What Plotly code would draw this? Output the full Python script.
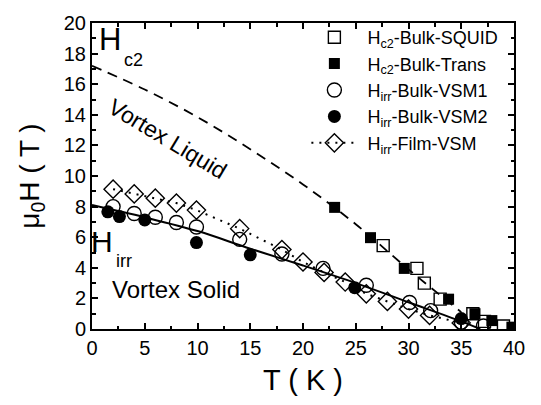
import plotly.graph_objects as go

# ---- data ----
squid_T = [27.6, 30.8, 31.5, 33.0, 36.1, 37.2, 39.0]
squid_H = [5.45, 3.96, 3.0, 1.95, 1.0, 0.5, 0.2]

trans_T = [23.0, 26.4, 29.6, 33.8, 36.3, 37.9, 39.8]
trans_H = [7.95, 5.97, 3.96, 1.95, 1.0, 0.55, 0.12]

vsm1_T = [2.0, 4.0, 6.0, 8.0, 9.9, 14.0, 18.0, 21.9, 26.0, 30.1, 32.1, 35.0, 37.1]
vsm1_H = [8.0, 7.55, 7.3, 6.96, 6.67, 5.86, 4.9, 3.96, 2.86, 1.73, 1.2, 0.45, 0.2]

vsm2_T = [1.5, 2.6, 5.0, 9.9, 15.0, 24.9, 35.0]
vsm2_H = [7.66, 7.35, 7.13, 5.65, 4.85, 2.7, 0.68]

film_T = [2.0, 4.0, 6.0, 8.0, 9.9, 14.0, 18.0, 20.0, 22.0, 24.0, 26.0, 28.0, 30.0, 32.0, 35.0]
film_H = [9.14, 8.83, 8.55, 8.23, 7.77, 6.56, 5.19, 4.38, 3.7, 3.07, 2.3, 1.8, 1.3, 0.89, 0.4]

hc2_fit_T = [0, 5, 10, 15, 20, 25, 30, 35]
hc2_fit_H = [17.2, 15.65, 13.85, 11.75, 9.45, 6.85, 3.9, 1.1]

irr_fit_T = [0, 5, 10, 15, 20, 25, 30, 35, 36.8]
irr_fit_H = [8.1, 7.3, 6.4, 5.25, 4.15, 3.0, 1.75, 0.5, 0.0]

legend_names = [
    "H<sub>c2</sub>-Bulk-SQUID",
    "H<sub>c2</sub>-Bulk-Trans",
    "H<sub>irr</sub>-Bulk-VSM1",
    "H<sub>irr</sub>-Bulk-VSM2",
    "H<sub>irr</sub>-Film-VSM",
]

FONT = "Liberation Sans, Arial, Helvetica, sans-serif"

fig = go.Figure()

# fit curves
fig.add_trace(go.Scatter(x=hc2_fit_T, y=hc2_fit_H, mode="lines", line_shape="spline",
                         line=dict(color="black", width=1.8, dash="10px,7px"), showlegend=False))
fig.add_trace(go.Scatter(x=irr_fit_T, y=irr_fit_H, mode="lines", line_shape="spline",
                         line=dict(color="black", width=2), showlegend=False))

# data
pad = "\u00a0"
fig.add_trace(go.Scatter(x=squid_T, y=squid_H, mode="markers", name=pad + legend_names[0],
                         marker=dict(symbol="square-open", size=12, color="black", line=dict(width=1.4))))
fig.add_trace(go.Scatter(x=trans_T, y=trans_H, mode="markers", name=pad + legend_names[1],
                         marker=dict(symbol="square", size=11, color="black")))
fig.add_trace(go.Scatter(x=vsm1_T, y=vsm1_H, mode="markers", name=pad + legend_names[2],
                         marker=dict(symbol="circle-open", size=14, color="black", line=dict(width=1.4))))
fig.add_trace(go.Scatter(x=vsm2_T, y=vsm2_H, mode="markers", name=pad + legend_names[3],
                         marker=dict(symbol="circle", size=13, color="black")))
fig.add_trace(go.Scatter(x=film_T, y=film_H, mode="lines+markers", name=pad + legend_names[4],
                         line=dict(color="black", width=2, dash="2px,6px"),
                         marker=dict(symbol="diamond-open", size=14, color="black", line=dict(width=1.4))))

def ann(x, y, text, size, angle=0):
    fig.add_annotation(x=x, y=y, xref="x", yref="y", text=text, showarrow=False,
                       font=dict(family=FONT, size=size, color="black"),
                       xanchor="center", yanchor="middle", textangle=angle)

ann(1.75, 18.9, "H", 31)
ann(3.9, 17.6, "c2", 18)
ann(7.2, 12.4, "Vortex Liquid", 23, 31)
ann(0.95, 5.7, "H", 30)
ann(3.05, 4.45, "irr", 18)
ann(8.0, 2.55, "Vortex Solid", 24)

axis_common = dict(showline=True, linewidth=2, linecolor="black", mirror="ticks",
                   ticks="inside", ticklen=6, tickwidth=1.5, tickcolor="black",
                   showgrid=False, zeroline=False,
                   tickfont=dict(family=FONT, size=20, color="black"))

fig.update_xaxes(range=[0, 40], dtick=5, tick0=0,
                 minor=dict(dtick=2.5, ticks="inside", ticklen=3.5, tickwidth=1.5, tickcolor="black"),
                 title=dict(text="T ( K )", font=dict(family=FONT, size=29, color="black"), standoff=12),
                 **axis_common)
fig.update_yaxes(range=[0, 20], dtick=2, tick0=0,
                 minor=dict(dtick=1, ticks="inside", ticklen=3.5, tickwidth=1.5, tickcolor="black"),
                 title=dict(text="μ<sub>0</sub>H ( T )", font=dict(family=FONT, size=28, color="black"), standoff=16),
                 **axis_common)

fig.update_layout(
    width=541, height=405,
    margin=dict(l=92, r=27, t=14, b=76),
    paper_bgcolor="white", plot_bgcolor="white",
    font=dict(family=FONT, color="black"),
    legend=dict(x=0.508, y=1.013, xanchor="left", yanchor="top",
                font=dict(family=FONT, size=18, color="black"),
                bgcolor="rgba(0,0,0,0)", itemwidth=46, tracegroupgap=0),
)

fig.write_html("out.html")
